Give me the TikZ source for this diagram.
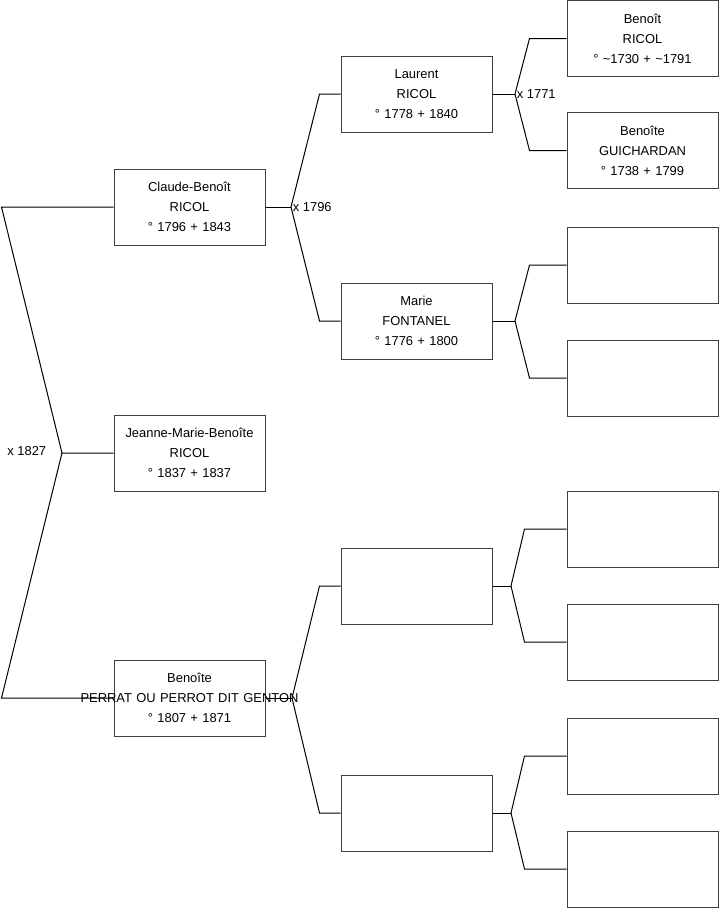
\documentclass[tikz,border=0pt]{standalone}
\usepackage{fontspec}
\setmainfont{Liberation Sans}
\begin{document}
\begin{tikzpicture}[x=0.75pt, y=-0.75pt, line width=0.75pt,
  font=\fontsize{9.7}{15}\selectfont,
  person/.style={draw=black!75, minimum width=113.25pt, minimum height=57pt, text width=105pt, align=center, inner sep=0pt},
  wed/.style={inner sep=1pt}]
\useasboundingbox (0,0) rectangle (719,908);
% children
\node[person] (cb) at (189.5,207) {Claude-Benoît\\RICOL\\° 1796 + 1843};
\node[person] (jm) at (189.5,453) {Jeanne-Marie-Benoîte\\RICOL\\° 1837 + 1837};
\node[person] (bp) at (189.5,698) {Benoîte\\\makebox[0pt]{PERRAT OU PERROT DIT GENTON}\\° 1807 + 1871};
% parents
\node[person] (la) at (416.5,94) {Laurent\\RICOL\\° 1778 + 1840};
\node[person] (ma) at (416.5,321) {Marie\\FONTANEL\\° 1776 + 1800};
\node[person] (e1) at (416.5,586) {};
\node[person] (e2) at (416.5,813) {};
% grandparents
\node[person] (g1) at (642.5,38.5) {Benoît\\RICOL\\° \textasciitilde 1730 + \textasciitilde 1791};
\node[person] (g2) at (642.5,150.5) {Benoîte\\GUICHARDAN\\° 1738 + 1799};
\node[person] (g3) at (642.5,265) {};
\node[person] (g4) at (642.5,378) {};
\node[person] (g5) at (642.5,529) {};
\node[person] (g6) at (642.5,642) {};
\node[person] (g7) at (642.5,756) {};
\node[person] (g8) at (642.5,869) {};
% forks
\coordinate (f0) at (62,453);
\coordinate (f1) at (291,207);
\coordinate (f2) at (515,94);
\coordinate (f3) at (515,321);
\coordinate (f4) at (292,698);
\coordinate (f5) at (511,586);
\coordinate (f6) at (511,813);
\node[wed, anchor=east] (m0) at (48,451) {x 1827};
\node[wed, anchor=west] (m1) at (f1) {x 1796};
\node[wed, anchor=west] (m2) at (f2) {x 1771};
% connectors
\draw (cb.west) -- ++(-112,0) -- (f0) -- (jm.west);
\draw (bp.west) -- ++(-112,0) -- (f0);
\draw (cb.east) -- (f1);
\draw (la.west) -- ++(-21,0) -- (f1);
\draw (ma.west) -- ++(-21,0) -- (f1);
\draw (bp.east) -- (f4);
\draw (e1.west) -- ++(-21,0) -- (f4);
\draw (e2.west) -- ++(-21,0) -- (f4);
\draw (la.east) -- (f2);
\draw (g1.west) -- ++(-37,0) -- (f2);
\draw (g2.west) -- ++(-37,0) -- (f2);
\draw (ma.east) -- (f3);
\draw (g3.west) -- ++(-37,0) -- (f3);
\draw (g4.west) -- ++(-37,0) -- (f3);
\draw (e1.east) -- (f5);
\draw (g5.west) -- ++(-42,0) -- (f5);
\draw (g6.west) -- ++(-42,0) -- (f5);
\draw (e2.east) -- (f6);
\draw (g7.west) -- ++(-42,0) -- (f6);
\draw (g8.west) -- ++(-42,0) -- (f6);
\end{tikzpicture}
\end{document}
